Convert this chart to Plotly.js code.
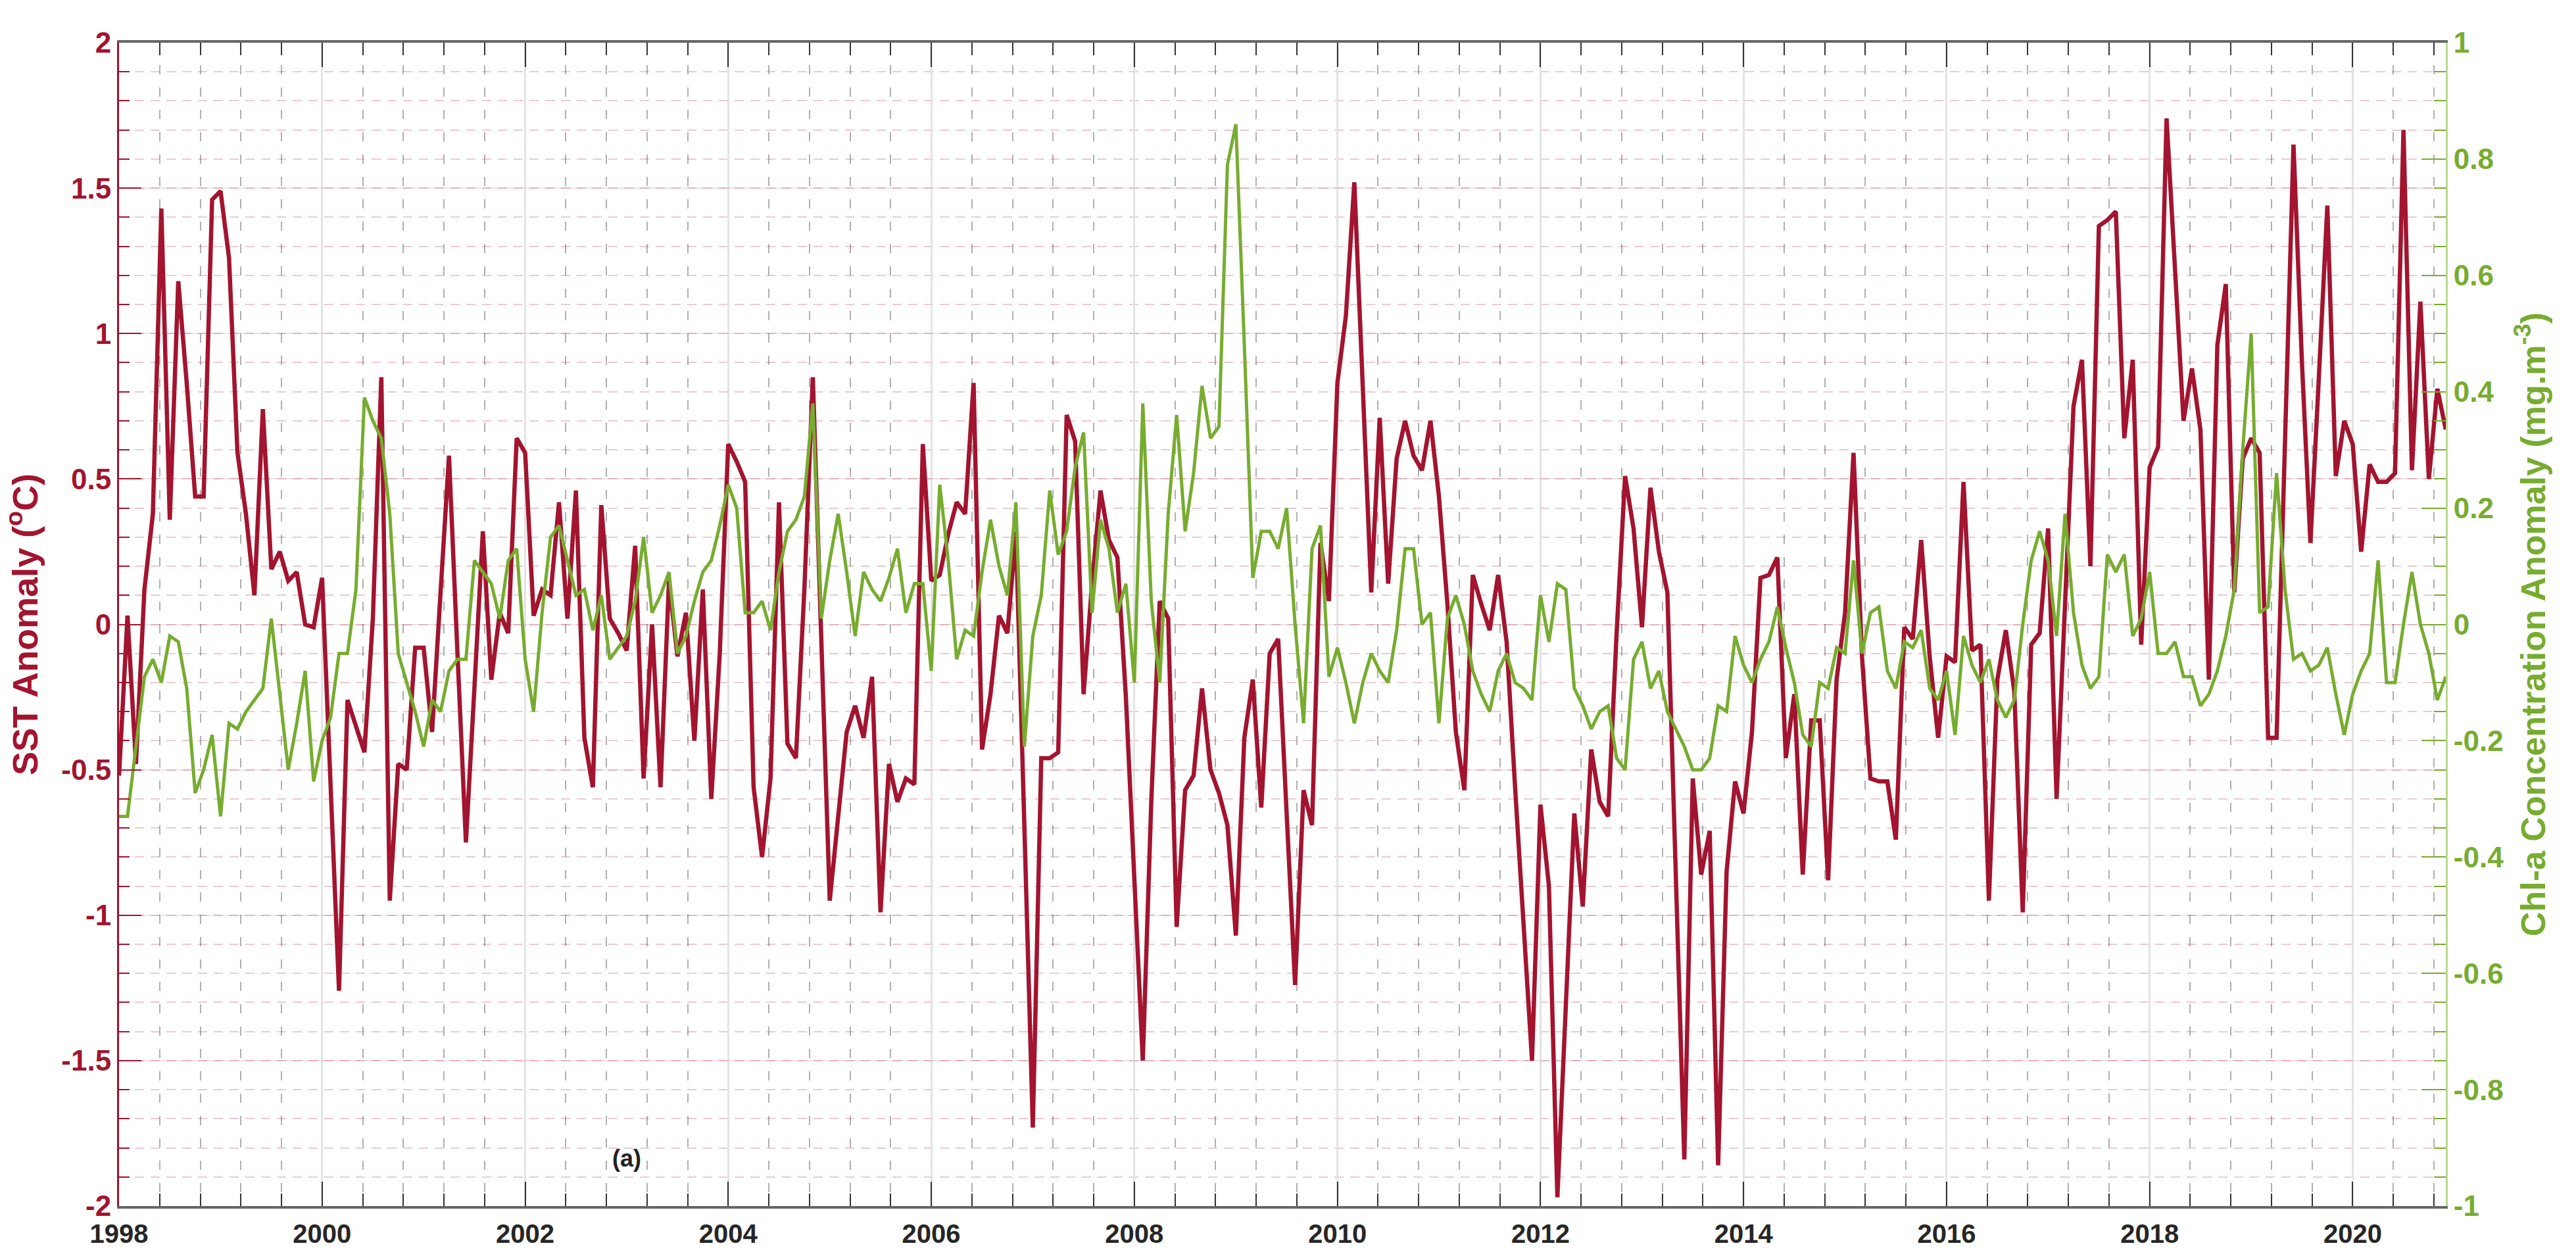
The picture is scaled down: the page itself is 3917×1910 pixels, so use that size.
<!DOCTYPE html>
<html>
<head>
<meta charset="utf-8">
<script src="https://cdn.plot.ly/plotly-3.0.1.min.js"></script>
<style>
    body { margin: 0; background: #fff; }
    #chart { width: 3917px; height: 1910px; }
</style>
</head>
<body>
<div id="chart"></div>
<script>
// monthly anomalies, Jan 1998 - Dec 2020
var startYear = 1998;

var sstAnomaly = [
    -0.52, 0.03, -0.48, 0.12, 0.38, 1.43, 0.36, 1.18, 0.83, 0.44, 0.44, 1.46,
    1.49, 1.26, 0.59, 0.38, 0.10, 0.74, 0.19, 0.25, 0.15, 0.18, 0.00, -0.01,
    0.16, -0.54, -1.26, -0.26, -0.35, -0.44, 0.02, 0.85, -0.95, -0.48, -0.50, -0.08,
    -0.08, -0.37, 0.11, 0.58, -0.10, -0.75, -0.22, 0.32, -0.19, 0.04, -0.03, 0.64,
    0.59, 0.03, 0.12, 0.10, 0.42, 0.02, 0.46, -0.39, -0.56, 0.41, 0.02, -0.03,
    -0.09, 0.27, -0.53, 0.00, -0.56, 0.15, -0.11, 0.04, -0.40, 0.12, -0.60, -0.10,
    0.62, 0.56, 0.49, -0.56, -0.80, -0.53, 0.42, -0.41, -0.46, 0.12, 0.85, -0.10,
    -0.95, -0.66, -0.37, -0.28, -0.39, -0.18, -0.99, -0.48, -0.61, -0.53, -0.55, 0.62,
    0.15, 0.17, 0.31, 0.42, 0.38, 0.83, -0.43, -0.24, 0.03, -0.03, 0.32, -0.69,
    -1.73, -0.46, -0.46, -0.44, 0.72, 0.63, -0.24, 0.14, 0.46, 0.29, 0.23, -0.25,
    -0.85, -1.50, -0.61, 0.08, 0.02, -1.04, -0.57, -0.52, -0.22, -0.50, -0.58, -0.69,
    -1.07, -0.39, -0.19, -0.63, -0.10, -0.05, -0.65, -1.24, -0.57, -0.69, 0.28, 0.08,
    0.83, 1.06, 1.52, 0.80, 0.11, 0.71, 0.14, 0.57, 0.70, 0.58, 0.53, 0.70,
    0.44, 0.07, -0.37, -0.57, 0.17, 0.07, -0.02, 0.17, -0.06, -0.56, -1.03, -1.50,
    -0.62, -0.90, -1.97, -1.31, -0.65, -0.97, -0.43, -0.61, -0.66, -0.03, 0.51, 0.33,
    -0.01, 0.47, 0.25, 0.11, -0.90, -1.84, -0.53, -0.86, -0.71, -1.86, -0.85, -0.54,
    -0.65, -0.37, 0.16, 0.17, 0.23, -0.46, -0.24, -0.86, -0.33, -0.33, -0.88, -0.19,
    0.04, 0.59, -0.11, -0.53, -0.54, -0.54, -0.74, -0.01, -0.05, 0.29, -0.11, -0.39,
    -0.11, -0.13, 0.49, -0.09, -0.07, -0.95, -0.19, -0.02, -0.23, -0.99, -0.07, -0.03,
    0.33, -0.60, 0.07, 0.75, 0.91, 0.20, 1.37, 1.39, 1.42, 0.64, 0.91, -0.07,
    0.54, 0.61, 1.74, 1.19, 0.70, 0.88, 0.67, -0.19, 0.96, 1.17, 0.11, 0.57,
    0.64, 0.59, -0.39, -0.39, 0.60, 1.65, 0.90, 0.28, 0.85, 1.44, 0.51, 0.70,
    0.62, 0.25, 0.55, 0.49, 0.49, 0.52, 1.70, 0.53, 1.11, 0.50, 0.81, 0.67
];

var chlAnomaly = [
    -0.33, -0.33, -0.21, -0.09, -0.06, -0.10, -0.02, -0.03, -0.11, -0.29, -0.25, -0.19,
    -0.33, -0.17, -0.18, -0.15, -0.13, -0.11, 0.01, -0.12, -0.25, -0.17, -0.08, -0.27,
    -0.20, -0.16, -0.05, -0.05, 0.06, 0.39, 0.35, 0.32, 0.19, -0.05, -0.10, -0.15,
    -0.21, -0.13, -0.15, -0.08, -0.06, -0.06, 0.11, 0.09, 0.07, 0.01, 0.11, 0.13,
    -0.06, -0.15, 0.02, 0.15, 0.17, 0.11, 0.05, 0.06, -0.01, 0.05, -0.06, -0.04,
    -0.02, 0.04, 0.15, 0.02, 0.05, 0.09, -0.05, -0.02, 0.04, 0.09, 0.11, 0.17,
    0.24, 0.20, 0.02, 0.02, 0.04, -0.01, 0.09, 0.16, 0.18, 0.22, 0.38, 0.01,
    0.11, 0.19, 0.09, -0.02, 0.09, 0.06, 0.04, 0.08, 0.13, 0.02, 0.07, 0.07,
    -0.08, 0.24, 0.11, -0.06, -0.01, -0.02, 0.09, 0.18, 0.10, 0.05, 0.21, -0.21,
    -0.02, 0.05, 0.23, 0.12, 0.16, 0.27, 0.33, 0.02, 0.18, 0.13, 0.02, 0.07,
    -0.10, 0.38, 0.04, -0.10, 0.19, 0.36, 0.16, 0.26, 0.41, 0.32, 0.34, 0.79,
    0.86, 0.48, 0.08, 0.16, 0.16, 0.13, 0.20, 0.00, -0.17, 0.13, 0.17, -0.09,
    -0.04, -0.10, -0.17, -0.10, -0.05, -0.08, -0.10, -0.01, 0.13, 0.13, 0.00, 0.02,
    -0.17, 0.01, 0.05, 0.00, -0.08, -0.12, -0.15, -0.08, -0.05, -0.10, -0.11, -0.13,
    0.05, -0.03, 0.07, 0.06, -0.11, -0.14, -0.18, -0.15, -0.14, -0.23, -0.25, -0.06,
    -0.03, -0.11, -0.08, -0.15, -0.18, -0.21, -0.25, -0.25, -0.23, -0.14, -0.15, -0.02,
    -0.07, -0.10, -0.06, -0.03, 0.03, -0.04, -0.10, -0.19, -0.21, -0.10, -0.11, -0.04,
    -0.05, 0.11, -0.05, 0.02, 0.03, -0.08, -0.11, -0.03, -0.04, -0.01, -0.11, -0.13,
    -0.08, -0.19, -0.02, -0.07, -0.10, -0.06, -0.13, -0.16, -0.13, 0.00, 0.11, 0.16,
    0.11, -0.02, 0.19, 0.02, -0.07, -0.11, -0.09, 0.12, 0.09, 0.12, -0.02, 0.01,
    0.09, -0.05, -0.05, -0.03, -0.09, -0.09, -0.14, -0.12, -0.08, -0.02, 0.06, 0.30,
    0.50, 0.02, 0.03, 0.26, 0.06, -0.06, -0.05, -0.08, -0.07, -0.04, -0.12, -0.19,
    -0.12, -0.08, -0.05, 0.11, -0.10, -0.10, 0.00, 0.09, 0.00, -0.05, -0.13, -0.09
];

var yearTicks = [1998, 2000, 2002, 2004, 2006, 2008, 2010, 2012, 2014, 2016, 2018, 2020];
var yearLabels = ['1998', '2000', '2002', '2004', '2006', '2008', '2010', '2012', '2014', '2016', '2018', '2020'];
var sstTicks = [-2, -1.5, -1, -0.5, 0, 0.5, 1, 1.5, 2];
var sstLabels = ['-2', '-1.5', '-1', '-0.5', '0', '0.5', '1', '1.5', '2'];
var chlTicks = [-1, -0.8, -0.6, -0.4, -0.2, 0, 0.2, 0.4, 0.6, 0.8, 1];
var chlLabels = ['-1', '-0.8', '-0.6', '-0.4', '-0.2', '0', '0.2', '0.4', '0.6', '0.8', '1'];

var red = '#A2142F';
var green = '#77AC30';

function buildChart() {
    // month index -> decimal year
    var time = sstAnomaly.map(function(v, i) { return startYear + i / 12; });

    var sstSeries = {
        x: time,
        y: sstAnomaly,
        mode: 'lines',
        type: 'scatter',
        line: { color: red, width: 6.5 },
        yaxis: 'y'
    };

    var chlSeries = {
        x: time,
        y: chlAnomaly,
        mode: 'lines',
        type: 'scatter',
        line: { color: green, width: 5 },
        yaxis: 'y2'
    };

    var layout = {
        width: 3917,
        height: 1910,
        showlegend: false,
        paper_bgcolor: '#fff',
        plot_bgcolor: '#fff',
        margin: { l: 181, r: 198, t: 65, b: 76 },
        xaxis: {
            range: [startYear, time[time.length - 1]],
            tickmode: 'array',
            tickvals: yearTicks,
            ticktext: yearLabels,
            ticks: 'inside',
            ticklen: 37,
            tickwidth: 2,
            tickcolor: '#333',
            tickfont: { family: 'Liberation Sans', size: 40, weight: 'bold', color: '#262626' },
            ticklabelstandoff: 4,
            showline: true,
            linecolor: '#666',
            linewidth: 4,
            mirror: 'ticks',
            showgrid: true,
            gridcolor: '#e3e3e3',
            gridwidth: 3,
            zeroline: false,
            minor: {
                tickmode: 'linear',
                tick0: startYear,
                dtick: 0.4,
                ticks: 'inside',
                ticklen: 19,
                tickwidth: 2,
                tickcolor: '#333',
                showgrid: true,
                gridcolor: '#b0b0b0',
                gridwidth: 2,
                griddash: '14px,20px'
            }
        },
        yaxis: {
            range: [-2, 2],
            tickmode: 'array',
            tickvals: sstTicks,
            ticktext: sstLabels,
            ticks: 'inside',
            ticklen: 34,
            tickwidth: 2,
            tickcolor: red,
            tickfont: { family: 'Liberation Sans', size: 44, weight: 'bold', color: red },
            showline: true,
            linecolor: red,
            linewidth: 3,
            showgrid: true,
            gridcolor: 'rgba(162,20,47,0.13)',
            gridwidth: 2,
            zeroline: false,
            minor: {
                tickmode: 'linear',
                tick0: 0,
                dtick: 0.1,
                ticks: 'inside',
                ticklen: 16,
                tickwidth: 1.5,
                tickcolor: red,
                showgrid: true,
                gridcolor: 'rgba(162,20,47,0.22)',
                gridwidth: 2,
                griddash: '14px,10px'
            },
            title: {
                text: 'SST Anomaly (<sup>o</sup>C)',
                font: { family: 'Liberation Sans', size: 54, weight: 'bold', color: red },
                standoff: 24
            }
        },
        yaxis2: {
            overlaying: 'y',
            side: 'right',
            range: [-1, 1],
            tickmode: 'array',
            tickvals: chlTicks,
            ticktext: chlLabels,
            ticks: 'inside',
            ticklen: 37,
            tickwidth: 2,
            tickcolor: green,
            tickfont: { family: 'Liberation Sans', size: 44, weight: 'bold', color: green },
            showline: true,
            linecolor: '#b9d98f',
            linewidth: 3,
            showgrid: false,
            zeroline: false,
            minor: {
                tickmode: 'linear',
                tick0: 0,
                dtick: 0.05,
                ticks: 'inside',
                ticklen: 18,
                tickwidth: 1.5,
                tickcolor: green,
                showgrid: false
            },
            title: {
                text: 'Chl-a Concentration Anomaly (mg.m<sup>-3</sup>)',
                font: { family: 'Liberation Sans', size: 52, weight: 'bold', color: green },
                standoff: 28
            }
        },
        annotations: [{
            x: 2003.0,
            y: -1.835,
            xref: 'x',
            yref: 'y',
            text: '(a)',
            showarrow: false,
            font: { family: 'Liberation Sans', size: 36, weight: 'bold', color: '#222' }
        }]
    };

    Plotly.newPlot('chart', [sstSeries, chlSeries], layout, { displayModeBar: false });
}

buildChart();
</script>
</body>
</html>
